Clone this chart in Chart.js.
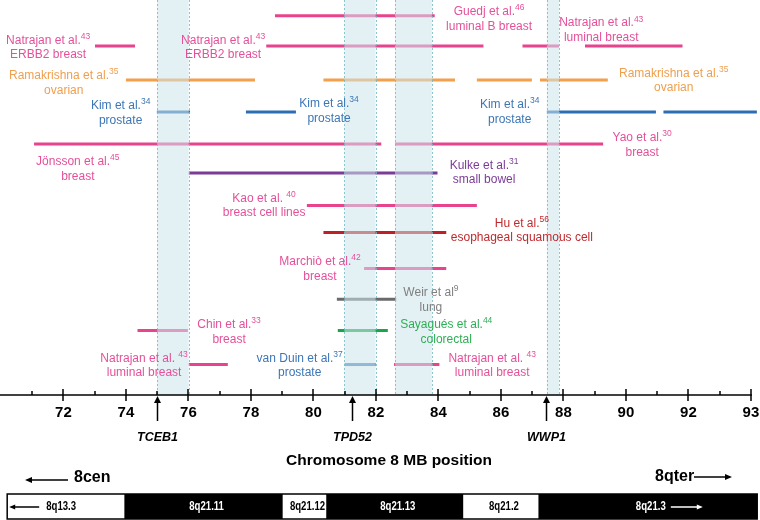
<!DOCTYPE html>
<html lang="en">
<head>
<meta charset="UTF-8" />
<title>Chromosome 8 amplicons</title>
<script src="https://cdn.jsdelivr.net/npm/chart.js"></script>
<style>
  body { margin: 0; background: #fff; }
</style>
</head>
<body>
<canvas id="ampliconChart" width="760" height="520"></canvas>
<script>
// vertical position of each study row (0 = top row)
const rowY = [0, 0.95, 2.02, 3.03, 4.04, 4.95, 5.98, 6.83, 7.96, 8.93, 9.92, 10.99];

// amplified segments, MB
const segRow   = [0, 1, 1, 1, 1, 2, 2, 2, 2, 3, 3, 3, 3, 4, 4, 5, 6, 7, 8, 9, 10, 10, 11, 11, 11];
const segStart = [78.77, 73.01, 78.49, 86.69, 88.69, 74.0, 80.32, 85.23, 87.25, 74.99, 77.84, 87.47, 91.2,
                  71.06, 82.61, 76.01, 79.79, 80.32, 81.62, 80.75, 80.78, 74.37, 76.01, 82.58, 81.0];
const segEnd   = [83.88, 74.29, 85.44, 87.86, 91.81, 78.13, 84.53, 86.99, 89.42, 76.05, 79.44, 90.96, 94.19,
                  82.17, 89.27, 83.97, 85.23, 84.25, 84.25, 82.65, 82.38, 75.98, 77.26, 84.03, 82.0];
const segGroup = ['pink', 'pink', 'pink', 'pink', 'pink', 'orange', 'orange', 'orange', 'orange',
                  'blue', 'blue', 'blue', 'blue', 'pink', 'pink', 'purple', 'pink', 'red', 'pink',
                  'grey', 'green', 'pink', 'pink', 'pink', 'blue2'];

// study labels
const labelName = ['Guedj et al.', 'Natrajan et al.', 'Natrajan et al.', 'Natrajan et al.', 'Ramakrishna et al.',
                   'Ramakrishna et al.', 'Kim et al.', 'Kim et al.', 'Kim et al.', 'Jönsson et al.', 'Yao et al.',
                   'Kulke et al.', 'Kao et al. ', 'Hu et al.', 'Marchiò et al.', 'Weir et al', 'Sayagués et al.',
                   'Chin et al.', 'Natrajan et al. ', 'van Duin et al.', 'Natrajan et al. '];
const labelRef  = ['46', '43', '43', '43', '35', '35', '34', '34', '34', '45', '30', '31', '40', '56', '42', '9',
                   '44', '33', '43', '37', '43'];
const labelDesc = ['luminal B breast', 'ERBB2 breast', 'ERBB2 breast', 'luminal breast', 'ovarian', 'ovarian',
                   'prostate', 'prostate', 'prostate', 'breast', 'breast', 'small bowel', 'breast cell lines',
                   'esophageal squamous cell', 'breast', 'lung', 'colorectal', 'breast', 'luminal breast',
                   'prostate', 'luminal breast'];
const labelGroup = ['pink', 'pink', 'pink', 'pink', 'orange', 'orange', 'blue', 'blue', 'blue', 'pink', 'pink',
                    'purple', 'pink', 'red', 'pink', 'grey', 'green', 'pink', 'pink', 'blue2', 'pink'];
// label anchors (MB, row units)
const labelX    = [85.62, 71.51, 77.11, 89.21, 72.01, 91.53, 73.83, 80.50, 86.28, 72.46, 90.52, 85.46, 78.42,
                   86.67, 80.21, 83.76, 84.25, 77.30, 74.58, 79.56, 85.72];
const labelRow  = [-0.13, 0.78, 0.78, 0.23, 1.90, 1.81, 2.84, 2.78, 2.81, 4.60, 3.84, 4.72, 5.75, 6.55, 7.75,
                   8.73, 9.74, 9.74, 10.79, 10.79, 10.79];

// shaded common regions, MB
const shadeStart = [75.0, 80.99, 82.61, 87.47];
const shadeEnd   = [76.01, 81.99, 83.79, 87.86];

// genes
const geneNames = ['TCEB1', 'TPD52', 'WWP1'];
const genePos   = [75.0, 81.24, 87.44];

// x axis ticks
const tickValues = [71, 72, 73, 74, 75, 76, 77, 78, 79, 80, 81, 82, 83, 84, 85, 86, 87, 88, 89, 90, 91, 92, 93, 94];
const tickLabels = ['', '72', '', '74', '', '76', '', '78', '', '80', '', '82', '', '84', '', '86', '', '88',
                    '', '90', '', '92', '', '93'];

// cytogenetic bands
const chromNames = ['8q13.3', '8q21.11', '8q21.12', '8q21.13', '8q21.2', '8q21.3'];
const chromEdges = [70.2, 73.95, 79.02, 80.41, 84.8, 87.2, 94.2];
const chromDark  = [false, true, false, true, false, true];

const lineColor = { pink: '#E8438D', orange: '#F2A04C', blue: '#2D6DB3', blue2: '#4A80C2', purple: '#7B3B96',
                    red: '#BE2026', grey: '#6A6A6A', green: '#17A74A' };
const textColor = { pink: '#E5509A', orange: '#EF9F4E', blue: '#3C76B6', blue2: '#3C76B6', purple: '#7B3B96',
                    red: '#C02A2E', grey: '#7F7F7F', green: '#2EAF55' };
const FONT = '"Liberation Sans", Arial, sans-serif';

function arrow(ctx, x1, y1, x2, y2, head, width) {
    const a = Math.atan2(y2 - y1, x2 - x1);
    ctx.beginPath();
    ctx.moveTo(x1, y1);
    ctx.lineTo(x2 - Math.cos(a) * head * 0.8, y2 - Math.sin(a) * head * 0.8);
    ctx.lineWidth = 1.5;
    ctx.stroke();
    ctx.beginPath();
    ctx.moveTo(x2, y2);
    ctx.lineTo(x2 - Math.cos(a) * head - Math.sin(a) * width, y2 - Math.sin(a) * head + Math.cos(a) * width);
    ctx.lineTo(x2 - Math.cos(a) * head + Math.sin(a) * width, y2 - Math.sin(a) * head - Math.cos(a) * width);
    ctx.closePath();
    ctx.fill();
}

function squeeze(ctx, txt, x, y, sx) {
    ctx.save();
    ctx.translate(x, y);
    ctx.scale(sx, 1);
    ctx.fillText(txt, 0, 0);
    ctx.restore();
}

const decorPlugin = {
    id: 'decor',
    afterDatasetsDraw(chart) {
        const { ctx, chartArea } = chart;
        const xs = chart.scales.x;
        ctx.save();
        for (let i = 0; i < shadeStart.length; i++) {
            const x1 = xs.getPixelForValue(shadeStart[i]);
            const x2 = xs.getPixelForValue(shadeEnd[i]);
            ctx.fillStyle = 'rgba(205,230,235,0.55)';
            ctx.fillRect(x1, chartArea.top, x2 - x1, chartArea.bottom - chartArea.top);
            ctx.strokeStyle = 'rgba(110,185,195,0.8)';
            ctx.lineWidth = 1;
            ctx.setLineDash([2, 2]);
            ctx.beginPath();
            ctx.moveTo(Math.round(x1) + 0.5, chartArea.top);
            ctx.lineTo(Math.round(x1) + 0.5, chartArea.bottom);
            ctx.moveTo(Math.round(x2) + 0.5, chartArea.top);
            ctx.lineTo(Math.round(x2) + 0.5, chartArea.bottom);
            ctx.stroke();
        }
        ctx.restore();
    },
    afterDraw(chart) {
        const { ctx, chartArea } = chart;
        const xs = chart.scales.x;
        const ys = chart.scales.y;
        const axisY = chartArea.bottom;
        ctx.save();

        // study labels
        ctx.textBaseline = 'middle';
        for (let i = 0; i < labelName.length; i++) {
            const cx = xs.getPixelForValue(labelX[i]);
            const cy = ys.getPixelForValue(labelRow[i]);
            ctx.fillStyle = textColor[labelGroup[i]];
            ctx.font = '12px ' + FONT;
            const w1 = ctx.measureText(labelName[i]).width;
            ctx.font = '8.5px ' + FONT;
            const w2 = ctx.measureText(labelRef[i]).width;
            const left = cx - (w1 + w2) / 2;
            ctx.textAlign = 'left';
            ctx.font = '12px ' + FONT;
            ctx.fillText(labelName[i], left, cy);
            ctx.font = '8.5px ' + FONT;
            ctx.fillText(labelRef[i], left + w1, cy - 4);
            ctx.font = '12px ' + FONT;
            ctx.textAlign = 'center';
            ctx.fillText(labelDesc[i], cx, cy + 14.5);
        }

        // axis line and tick marks
        ctx.strokeStyle = '#000';
        ctx.fillStyle = '#000';
        ctx.lineWidth = 1.5;
        ctx.beginPath();
        ctx.moveTo(chartArea.left, axisY);
        ctx.lineTo(xs.getPixelForValue(94) + 1, axisY);
        ctx.stroke();
        tickValues.forEach((v, i) => {
            const x = Math.round(xs.getPixelForValue(v));
            ctx.beginPath();
            if (tickLabels[i] !== '') {
                ctx.moveTo(x, axisY - 6);
                ctx.lineTo(x, axisY + 6);
            } else {
                ctx.moveTo(x, axisY - 4);
                ctx.lineTo(x, axisY);
            }
            ctx.stroke();
        });

        // gene markers
        ctx.textAlign = 'center';
        ctx.font = 'italic bold 12.5px ' + FONT;
        geneNames.forEach((g, i) => {
            const x = Math.round(xs.getPixelForValue(genePos[i])) + 0.5;
            arrow(ctx, x, axisY + 26, x, axisY + 1, 7, 3.5);
            ctx.fillText(g, x, axisY + 43);
        });

        // axis title
        ctx.font = 'bold 15.5px ' + FONT;
        ctx.fillText('Chromosome 8 MB position', (chartArea.left + chartArea.right) / 2 + 9, axisY + 66);

        // orientation
        ctx.font = 'bold 16px ' + FONT;
        ctx.textAlign = 'left';
        ctx.fillText('8cen', 74, axisY + 83);
        arrow(ctx, 68, axisY + 85, 25, axisY + 85, 7, 3);
        ctx.fillText('8qter', 655, axisY + 82);
        arrow(ctx, 694, axisY + 82, 732, axisY + 82, 7, 3);

        // cytogenetic band bar
        const top = 494, bot = 519;
        ctx.font = 'bold 12px ' + FONT;
        for (let i = 0; i < chromNames.length; i++) {
            const x1 = xs.getPixelForValue(chromEdges[i]);
            const x2 = xs.getPixelForValue(chromEdges[i + 1]);
            ctx.fillStyle = chromDark[i] ? '#000' : '#fff';
            ctx.fillRect(x1, top, x2 - x1, bot - top);
            ctx.fillStyle = chromDark[i] ? '#fff' : '#000';
            ctx.strokeStyle = ctx.fillStyle;
            const my = (top + bot) / 2 + 0.5;
            if (i === 0) {
                arrow(ctx, x1 + 32, my, x1 + 2, my, 6, 2.5);
                ctx.textAlign = 'left';
                squeeze(ctx, chromNames[i], x1 + 39, my, 0.8);
            } else if (i === chromNames.length - 1) {
                ctx.textAlign = 'center';
                const cx = (x1 + x2) / 2 + 3;
                squeeze(ctx, chromNames[i], cx, my, 0.8);
                arrow(ctx, cx + 20, my, cx + 52, my, 6, 2.5);
            } else {
                ctx.textAlign = 'center';
                squeeze(ctx, chromNames[i], (x1 + x2) / 2 + 3, my, 0.8);
            }
        }
        ctx.strokeStyle = '#000';
        ctx.lineWidth = 1.5;
        const bl = xs.getPixelForValue(chromEdges[0]);
        const br = xs.getPixelForValue(chromEdges[chromEdges.length - 1]);
        ctx.strokeRect(bl, top, br - bl, bot - top);
        ctx.restore();
    }
};

const datasets = segStart.map((s, i) => ({
    data: [{ x: s, y: rowY[segRow[i]] }, { x: segEnd[i], y: rowY[segRow[i]] }],
    borderColor: lineColor[segGroup[i]],
    borderWidth: 3,
    borderCapStyle: 'butt',
    pointRadius: 0,
    fill: false,
    tension: 0
}));

const ctx = document.getElementById('ampliconChart').getContext('2d');
const chart = new Chart(ctx, {
    type: 'line',
    data: { datasets: datasets },
    options: {
        responsive: false,
        animation: false,
        layout: { padding: 0 },
        plugins: {
            legend: { display: false },
            tooltip: { enabled: false }
        },
        scales: {
            x: {
                type: 'linear',
                position: 'bottom',
                min: 69.97,
                max: 94.29,
                afterBuildTicks: (scale) => {
                    scale.ticks = tickValues.map((v) => ({ value: v }));
                },
                afterFit: (scale) => {
                    scale.height = 125;
                    scale.paddingLeft = 0;
                    scale.paddingRight = 0;
                },
                grid: { display: false, drawTicks: false, tickLength: 0 },
                border: { display: false },
                ticks: {
                    autoSkip: false,
                    maxRotation: 0,
                    padding: 9,
                    color: '#000',
                    font: { family: FONT, size: 15, weight: 'bold' },
                    callback: function (value) {
                        const i = tickValues.indexOf(value);
                        return i < 0 ? '' : tickLabels[i];
                    }
                }
            },
            y: {
                type: 'linear',
                display: false,
                reverse: true,
                min: -0.5,
                max: 11.95
            }
        }
    },
    plugins: [decorPlugin]
});
</script>
</body>
</html>
